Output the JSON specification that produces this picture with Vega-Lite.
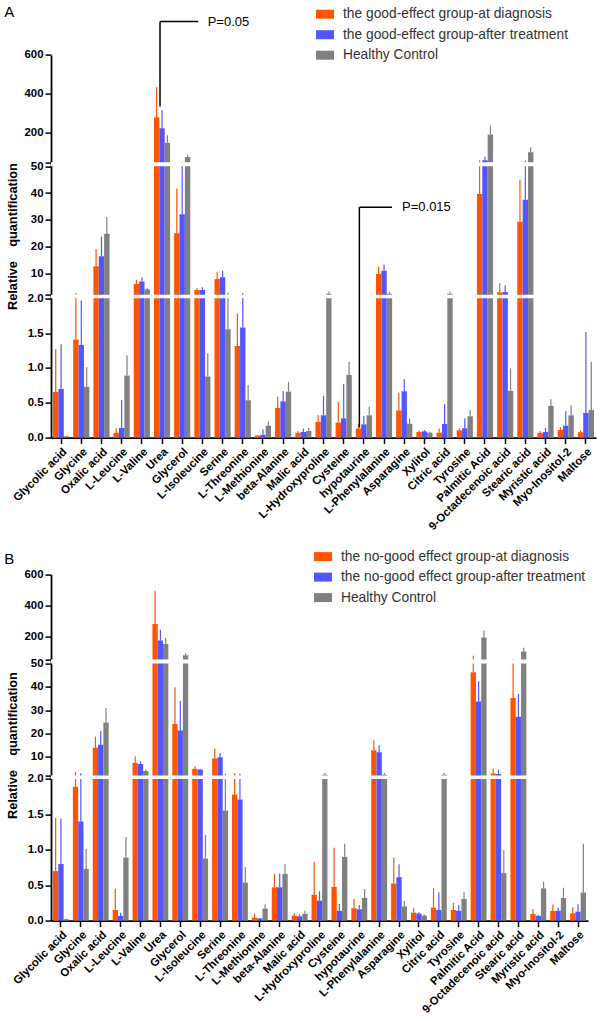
{
  "$schema": "https://vega.github.io/schema/vega-lite/v6.json",
  "padding": {"left": 4, "top": 4.6, "right": 0, "bottom": 0},
  "spacing": 13,
  "config": {
    "view": {"stroke": null},
    "font": "Liberation Sans",
    "axis": {"grid": false, "domainColor": "#000", "tickColor": "#000", "labelColor": "#000", "titleColor": "#000", "labelFont": "Liberation Sans", "labelFontWeight": "bold", "labelFontSize": 11.4, "domainWidth": 1.8, "tickWidth": 1.5, "tickSize": 6, "labelPadding": 2},
    "legend": {"title": null, "orient": "none", "direction": "vertical", "symbolType": "M-1,-0.5L1,-0.5L1,0.5L-1,0.5Z", "symbolSize": 324, "symbolStrokeWidth": 0, "symbolOpacity": 1, "labelFont": "Liberation Sans", "labelFontSize": 13.8, "labelColor": "#333", "labelLimit": 320, "rowPadding": 4.5, "labelOffset": 9}
  },
  "resolve": {"scale": {"color": "independent", "stroke": "independent", "xOffset": "independent", "x": "independent", "y": "independent"}},
  "datasets": {
    "A": [
      {"m": "Glycolic acid", "g": "the good-effect group-at diagnosis", "v": 0.655, "u": 1.27},
      {"m": "Glycolic acid", "g": "the good-effect group-after treatment", "v": 0.70, "u": 1.34},
      {"m": "Glycolic acid", "g": "Healthy Control", "v": 0.02, "u": 0.03},
      {"m": "Glycine", "g": "the good-effect group-at diagnosis", "v": 1.41, "u": 2.5},
      {"m": "Glycine", "g": "the good-effect group-after treatment", "v": 1.33, "u": 1.97},
      {"m": "Glycine", "g": "Healthy Control", "v": 0.73, "u": 1.01},
      {"m": "Oxalic acid", "g": "the good-effect group-at diagnosis", "v": 12.6, "u": 19.1},
      {"m": "Oxalic acid", "g": "the good-effect group-after treatment", "v": 16.4, "u": 23.7},
      {"m": "Oxalic acid", "g": "Healthy Control", "v": 24.8, "u": 31},
      {"m": "L-Leucine", "g": "the good-effect group-at diagnosis", "v": 0.07, "u": 0.13},
      {"m": "L-Leucine", "g": "the good-effect group-after treatment", "v": 0.14, "u": 0.54},
      {"m": "L-Leucine", "g": "Healthy Control", "v": 0.89, "u": 1.18},
      {"m": "L-Valine", "g": "the good-effect group-at diagnosis", "v": 6.0, "u": 7.6},
      {"m": "L-Valine", "g": "the good-effect group-after treatment", "v": 6.9, "u": 8.4},
      {"m": "L-Valine", "g": "Healthy Control", "v": 4.0, "u": 4.6},
      {"m": "Urea", "g": "the good-effect group-at diagnosis", "v": 280, "u": 434},
      {"m": "Urea", "g": "the good-effect group-after treatment", "v": 224, "u": 318},
      {"m": "Urea", "g": "Healthy Control", "v": 150, "u": 188},
      {"m": "Glycerol", "g": "the good-effect group-at diagnosis", "v": 25, "u": 41.7},
      {"m": "Glycerol", "g": "the good-effect group-after treatment", "v": 32.1, "u": 51.5},
      {"m": "Glycerol", "g": "Healthy Control", "v": 77, "u": 89},
      {"m": "L-Isoleucine", "g": "the good-effect group-at diagnosis", "v": 3.75, "u": 4.5},
      {"m": "L-Isoleucine", "g": "the good-effect group-after treatment", "v": 3.75, "u": 4.75},
      {"m": "L-Isoleucine", "g": "Healthy Control", "v": 0.876, "u": 1.21},
      {"m": "Serine", "g": "the good-effect group-at diagnosis", "v": 7.9, "u": 10.5},
      {"m": "Serine", "g": "the good-effect group-after treatment", "v": 8.5, "u": 11},
      {"m": "Serine", "g": "Healthy Control", "v": 1.555, "u": 2.8},
      {"m": "L-Threonine", "g": "the good-effect group-at diagnosis", "v": 1.315, "u": 1.78},
      {"m": "L-Threonine", "g": "the good-effect group-after treatment", "v": 1.58, "u": 2.6},
      {"m": "L-Threonine", "g": "Healthy Control", "v": 0.536, "u": 0.756},
      {"m": "L-Methionine", "g": "the good-effect group-at diagnosis", "v": 0.03, "u": 0.04},
      {"m": "L-Methionine", "g": "the good-effect group-after treatment", "v": 0.04, "u": 0.12},
      {"m": "L-Methionine", "g": "Healthy Control", "v": 0.17, "u": 0.23},
      {"m": "beta-Alanine", "g": "the good-effect group-at diagnosis", "v": 0.426, "u": 0.59},
      {"m": "beta-Alanine", "g": "the good-effect group-after treatment", "v": 0.52, "u": 0.67},
      {"m": "beta-Alanine", "g": "Healthy Control", "v": 0.66, "u": 0.80},
      {"m": "Malic acid", "g": "the good-effect group-at diagnosis", "v": 0.067, "u": 0.096},
      {"m": "Malic acid", "g": "the good-effect group-after treatment", "v": 0.08, "u": 0.13},
      {"m": "Malic acid", "g": "Healthy Control", "v": 0.096, "u": 0.14},
      {"m": "L-Hydroxyproline", "g": "the good-effect group-at diagnosis", "v": 0.225, "u": 0.32},
      {"m": "L-Hydroxyproline", "g": "the good-effect group-after treatment", "v": 0.32, "u": 0.6},
      {"m": "L-Hydroxyproline", "g": "Healthy Control", "v": 2.35, "u": 3.1},
      {"m": "Cysteine", "g": "the good-effect group-at diagnosis", "v": 0.215, "u": 0.507},
      {"m": "Cysteine", "g": "the good-effect group-after treatment", "v": 0.277, "u": 0.77},
      {"m": "Cysteine", "g": "Healthy Control", "v": 0.90, "u": 1.086},
      {"m": "hypotaurine", "g": "the good-effect group-at diagnosis", "v": 0.13, "u": 0.2},
      {"m": "hypotaurine", "g": "the good-effect group-after treatment", "v": 0.19, "u": 0.31},
      {"m": "hypotaurine", "g": "Healthy Control", "v": 0.32, "u": 0.445},
      {"m": "L-Phenylalanine", "g": "the good-effect group-at diagnosis", "v": 9.75, "u": 12.5},
      {"m": "L-Phenylalanine", "g": "the good-effect group-after treatment", "v": 11, "u": 13.25},
      {"m": "L-Phenylalanine", "g": "Healthy Control", "v": 2.35, "u": 3.1},
      {"m": "Asparagine", "g": "the good-effect group-at diagnosis", "v": 0.39, "u": 0.646},
      {"m": "Asparagine", "g": "the good-effect group-after treatment", "v": 0.665, "u": 0.84},
      {"m": "Asparagine", "g": "Healthy Control", "v": 0.2, "u": 0.277},
      {"m": "Xylitol", "g": "the good-effect group-at diagnosis", "v": 0.08, "u": 0.1},
      {"m": "Xylitol", "g": "the good-effect group-after treatment", "v": 0.09, "u": 0.11},
      {"m": "Xylitol", "g": "Healthy Control", "v": 0.07, "u": 0.085},
      {"m": "Citric acid", "g": "the good-effect group-at diagnosis", "v": 0.07, "u": 0.13},
      {"m": "Citric acid", "g": "the good-effect group-after treatment", "v": 0.196, "u": 0.483},
      {"m": "Citric acid", "g": "Healthy Control", "v": 2.35, "u": 3.1},
      {"m": "Tyrosine", "g": "the good-effect group-at diagnosis", "v": 0.105, "u": 0.134},
      {"m": "Tyrosine", "g": "the good-effect group-after treatment", "v": 0.134, "u": 0.277},
      {"m": "Tyrosine", "g": "Healthy Control", "v": 0.306, "u": 0.40},
      {"m": "Palmitic Acid", "g": "the good-effect group-at diagnosis", "v": 39.6, "u": 60},
      {"m": "Palmitic Acid", "g": "the good-effect group-after treatment", "v": 60, "u": 78},
      {"m": "Palmitic Acid", "g": "Healthy Control", "v": 192, "u": 238},
      {"m": "9-Octadecenoic acid", "g": "the good-effect group-at diagnosis", "v": 2.9, "u": 6.3},
      {"m": "9-Octadecenoic acid", "g": "the good-effect group-after treatment", "v": 3.0, "u": 5.4},
      {"m": "9-Octadecenoic acid", "g": "Healthy Control", "v": 0.67, "u": 0.995},
      {"m": "Stearic acid", "g": "the good-effect group-at diagnosis", "v": 29.3, "u": 45},
      {"m": "Stearic acid", "g": "the good-effect group-after treatment", "v": 37.5, "u": 58},
      {"m": "Stearic acid", "g": "Healthy Control", "v": 101, "u": 126},
      {"m": "Myristic acid", "g": "the good-effect group-at diagnosis", "v": 0.07, "u": 0.09},
      {"m": "Myristic acid", "g": "the good-effect group-after treatment", "v": 0.08, "u": 0.14},
      {"m": "Myristic acid", "g": "Healthy Control", "v": 0.455, "u": 0.55},
      {"m": "Myo-Inositol-2", "g": "the good-effect group-at diagnosis", "v": 0.11, "u": 0.153},
      {"m": "Myo-Inositol-2", "g": "the good-effect group-after treatment", "v": 0.172, "u": 0.383},
      {"m": "Myo-Inositol-2", "g": "Healthy Control", "v": 0.32, "u": 0.464},
      {"m": "Maltose", "g": "the good-effect group-at diagnosis", "v": 0.077, "u": 0.105},
      {"m": "Maltose", "g": "the good-effect group-after treatment", "v": 0.354, "u": 1.517},
      {"m": "Maltose", "g": "Healthy Control", "v": 0.397, "u": 1.086}
    ],
    "B": [
      {"m": "Glycolic acid", "g": "the no-good effect group-at diagnosis", "v": 0.70, "u": 1.45},
      {"m": "Glycolic acid", "g": "the no-good effect group-after treatment", "v": 0.80, "u": 1.44},
      {"m": "Glycolic acid", "g": "Healthy Control", "v": 0.02, "u": 0.03},
      {"m": "Glycine", "g": "the no-good effect group-at diagnosis", "v": 1.89, "u": 3.5},
      {"m": "Glycine", "g": "the no-good effect group-after treatment", "v": 1.40, "u": 3.0},
      {"m": "Glycine", "g": "Healthy Control", "v": 0.73, "u": 1.01},
      {"m": "Oxalic acid", "g": "the no-good effect group-at diagnosis", "v": 13.9, "u": 18.7},
      {"m": "Oxalic acid", "g": "the no-good effect group-after treatment", "v": 15.2, "u": 21.1},
      {"m": "Oxalic acid", "g": "Healthy Control", "v": 24.8, "u": 31},
      {"m": "L-Leucine", "g": "the no-good effect group-at diagnosis", "v": 0.15, "u": 0.45},
      {"m": "L-Leucine", "g": "the no-good effect group-after treatment", "v": 0.066, "u": 0.11},
      {"m": "L-Leucine", "g": "Healthy Control", "v": 0.89, "u": 1.18},
      {"m": "L-Valine", "g": "the no-good effect group-at diagnosis", "v": 7.4, "u": 10.3},
      {"m": "L-Valine", "g": "the no-good effect group-after treatment", "v": 7.0, "u": 8.1},
      {"m": "L-Valine", "g": "Healthy Control", "v": 4.0, "u": 4.6},
      {"m": "Urea", "g": "the no-good effect group-at diagnosis", "v": 280, "u": 496},
      {"m": "Urea", "g": "the no-good effect group-after treatment", "v": 172, "u": 243},
      {"m": "Urea", "g": "Healthy Control", "v": 150, "u": 188},
      {"m": "Glycerol", "g": "the no-good effect group-at diagnosis", "v": 24.1, "u": 39.9},
      {"m": "Glycerol", "g": "the no-good effect group-after treatment", "v": 21.3, "u": 34},
      {"m": "Glycerol", "g": "Healthy Control", "v": 77, "u": 89},
      {"m": "L-Isoleucine", "g": "the no-good effect group-at diagnosis", "v": 4.9, "u": 6.0},
      {"m": "L-Isoleucine", "g": "the no-good effect group-after treatment", "v": 4.6, "u": 4.9},
      {"m": "L-Isoleucine", "g": "Healthy Control", "v": 0.876, "u": 1.21},
      {"m": "Serine", "g": "the no-good effect group-at diagnosis", "v": 9.3, "u": 13.6},
      {"m": "Serine", "g": "the no-good effect group-after treatment", "v": 9.9, "u": 11.7},
      {"m": "Serine", "g": "Healthy Control", "v": 1.555, "u": 2.8},
      {"m": "L-Threonine", "g": "the no-good effect group-at diagnosis", "v": 1.78, "u": 3.0},
      {"m": "L-Threonine", "g": "the no-good effect group-after treatment", "v": 1.71, "u": 2.8},
      {"m": "L-Threonine", "g": "Healthy Control", "v": 0.536, "u": 0.756},
      {"m": "L-Methionine", "g": "the no-good effect group-at diagnosis", "v": 0.04, "u": 0.10},
      {"m": "L-Methionine", "g": "the no-good effect group-after treatment", "v": 0.03, "u": 0.04},
      {"m": "L-Methionine", "g": "Healthy Control", "v": 0.17, "u": 0.23},
      {"m": "beta-Alanine", "g": "the no-good effect group-at diagnosis", "v": 0.47, "u": 0.66},
      {"m": "beta-Alanine", "g": "the no-good effect group-after treatment", "v": 0.47, "u": 0.665},
      {"m": "beta-Alanine", "g": "Healthy Control", "v": 0.66, "u": 0.80},
      {"m": "Malic acid", "g": "the no-good effect group-at diagnosis", "v": 0.07, "u": 0.108},
      {"m": "Malic acid", "g": "the no-good effect group-after treatment", "v": 0.06, "u": 0.085},
      {"m": "Malic acid", "g": "Healthy Control", "v": 0.096, "u": 0.14},
      {"m": "L-Hydroxyproline", "g": "the no-good effect group-at diagnosis", "v": 0.363, "u": 0.83},
      {"m": "L-Hydroxyproline", "g": "the no-good effect group-after treatment", "v": 0.283, "u": 0.415},
      {"m": "L-Hydroxyproline", "g": "Healthy Control", "v": 2.35, "u": 3.1},
      {"m": "Cysteine", "g": "the no-good effect group-at diagnosis", "v": 0.476, "u": 1.03},
      {"m": "Cysteine", "g": "the no-good effect group-after treatment", "v": 0.137, "u": 0.236},
      {"m": "Cysteine", "g": "Healthy Control", "v": 0.90, "u": 1.086},
      {"m": "hypotaurine", "g": "the no-good effect group-at diagnosis", "v": 0.175, "u": 0.31},
      {"m": "hypotaurine", "g": "the no-good effect group-after treatment", "v": 0.16, "u": 0.22},
      {"m": "hypotaurine", "g": "Healthy Control", "v": 0.32, "u": 0.445},
      {"m": "L-Phenylalanine", "g": "the no-good effect group-at diagnosis", "v": 12.9, "u": 17.1},
      {"m": "L-Phenylalanine", "g": "the no-good effect group-after treatment", "v": 12, "u": 15},
      {"m": "L-Phenylalanine", "g": "Healthy Control", "v": 2.35, "u": 3.1},
      {"m": "Asparagine", "g": "the no-good effect group-at diagnosis", "v": 0.524, "u": 0.89},
      {"m": "Asparagine", "g": "the no-good effect group-after treatment", "v": 0.613, "u": 0.797},
      {"m": "Asparagine", "g": "Healthy Control", "v": 0.2, "u": 0.277},
      {"m": "Xylitol", "g": "the no-good effect group-at diagnosis", "v": 0.113, "u": 0.18},
      {"m": "Xylitol", "g": "the no-good effect group-after treatment", "v": 0.1, "u": 0.118},
      {"m": "Xylitol", "g": "Healthy Control", "v": 0.07, "u": 0.085},
      {"m": "Citric acid", "g": "the no-good effect group-at diagnosis", "v": 0.184, "u": 0.46},
      {"m": "Citric acid", "g": "the no-good effect group-after treatment", "v": 0.15, "u": 0.4},
      {"m": "Citric acid", "g": "Healthy Control", "v": 2.35, "u": 3.1},
      {"m": "Tyrosine", "g": "the no-good effect group-at diagnosis", "v": 0.15, "u": 0.25},
      {"m": "Tyrosine", "g": "the no-good effect group-after treatment", "v": 0.14, "u": 0.22},
      {"m": "Tyrosine", "g": "Healthy Control", "v": 0.306, "u": 0.40},
      {"m": "Palmitic Acid", "g": "the no-good effect group-at diagnosis", "v": 46.3, "u": 74},
      {"m": "Palmitic Acid", "g": "the no-good effect group-after treatment", "v": 33.8, "u": 42.4},
      {"m": "Palmitic Acid", "g": "Healthy Control", "v": 192, "u": 238},
      {"m": "9-Octadecenoic acid", "g": "the no-good effect group-at diagnosis", "v": 2.86, "u": 5.0},
      {"m": "9-Octadecenoic acid", "g": "the no-good effect group-after treatment", "v": 2.7, "u": 4.6},
      {"m": "9-Octadecenoic acid", "g": "Healthy Control", "v": 0.67, "u": 0.995},
      {"m": "Stearic acid", "g": "the no-good effect group-at diagnosis", "v": 35.3, "u": 53},
      {"m": "Stearic acid", "g": "the no-good effect group-after treatment", "v": 27.2, "u": 37.1},
      {"m": "Stearic acid", "g": "Healthy Control", "v": 101, "u": 126},
      {"m": "Myristic acid", "g": "the no-good effect group-at diagnosis", "v": 0.094, "u": 0.165},
      {"m": "Myristic acid", "g": "the no-good effect group-after treatment", "v": 0.066, "u": 0.08},
      {"m": "Myristic acid", "g": "Healthy Control", "v": 0.455, "u": 0.55},
      {"m": "Myo-Inositol-2", "g": "the no-good effect group-at diagnosis", "v": 0.137, "u": 0.226},
      {"m": "Myo-Inositol-2", "g": "the no-good effect group-after treatment", "v": 0.137, "u": 0.18},
      {"m": "Myo-Inositol-2", "g": "Healthy Control", "v": 0.32, "u": 0.464},
      {"m": "Maltose", "g": "the no-good effect group-at diagnosis", "v": 0.104, "u": 0.19},
      {"m": "Maltose", "g": "the no-good effect group-after treatment", "v": 0.127, "u": 0.23},
      {"m": "Maltose", "g": "Healthy Control", "v": 0.397, "u": 1.086}
    ]
  },
  "vconcat": [
    {
      "title": {"text": "A", "anchor": "start", "frame": "bounds", "fontSize": 15, "fontWeight": "normal", "font": "Liberation Sans", "color": "#000", "dx": -2.7, "dy": 14.5, "offset": 0},
      "width": 545,
      "height": 432,
      "layer": [
        {
          "data": {"name": "A"},
          "mark": {"type": "bar"},
          "encoding": {
            "x": {"field": "m", "type": "nominal", "scale": {"domain": ["Glycolic acid", "Glycine", "Oxalic acid", "L-Leucine", "L-Valine", "Urea", "Glycerol", "L-Isoleucine", "Serine", "L-Threonine", "L-Methionine", "beta-Alanine", "Malic acid", "L-Hydroxyproline", "Cysteine", "hypotaurine", "L-Phenylalanine", "Asparagine", "Xylitol", "Citric acid", "Tyrosine", "Palmitic Acid", "9-Octadecenoic acid", "Stearic acid", "Myristic acid", "Myo-Inositol-2", "Maltose"], "paddingInner": 0.2, "paddingOuter": 0.1}, "axis": {"title": null, "labelAngle": -45, "labelOverlap": false}},
            "xOffset": {"field": "g", "type": "nominal", "scale": {"domain": ["the good-effect group-at diagnosis", "the good-effect group-after treatment", "Healthy Control"]}},
            "y": {"field": "v", "type": "quantitative", "scale": {"domain": [0, 2, 2.001, 50, 50.001, 600], "range": [432, 292.7, 289.1, 160.7, 156.6, 49.3], "nice": false, "zero": false}, "axis": {"values": [0, 0.5, 1, 1.5, 2, 2.001, 10, 20, 30, 40, 50, 50.001, 200, 400, 600], "tickCount": 40, "labelExpr": "datum.value == 2.001 || datum.value == 50.001 ? '' : (datum.value <= 2 ? format(datum.value, '.1f') : format(datum.value, 'd'))", "labelOverlap": false, "title": "Relative\u00a0\u00a0\u00a0\u00a0quantification", "titleFontSize": 12.8, "titleFontWeight": "bold", "titleFont": "Liberation Sans", "titleY": 230.5, "titlePadding": 4}},
            "color": {"field": "g", "type": "nominal", "scale": {"domain": ["the good-effect group-at diagnosis", "the good-effect group-after treatment", "Healthy Control"], "range": ["#FF5500", "#5555FF", "#808080"]}, "legend": {"legendX": 265, "legendY": -0.4}}
          }
        },
        {
          "data": {"name": "A"},
          "mark": {"type": "rule", "strokeWidth": 1.2},
          "encoding": {
            "x": {"field": "m", "type": "nominal"},
            "xOffset": {"field": "g", "type": "nominal"},
            "y": {"field": "v", "type": "quantitative"},
            "y2": {"field": "u"},
            "stroke": {"field": "g", "type": "nominal", "scale": {"domain": ["the good-effect group-at diagnosis", "the good-effect group-after treatment", "Healthy Control"], "range": ["#FF5500", "#5555FF", "#808080"]}, "legend": null}
          }
        },
        {
          "data": {"values": [{}]},
          "mark": {"type": "rule", "color": "white", "strokeWidth": 3.6},
          "encoding": {"y": {"datum": 2.0005, "type": "quantitative"}}
        },
        {
          "data": {"values": [{}]},
          "mark": {"type": "rule", "color": "white", "strokeWidth": 4},
          "encoding": {"y": {"datum": 50.0005, "type": "quantitative"}}
        },
        {
          "data": {"values": [{"m": "Urea", "v": 335, "u": 771}]},
          "mark": {"type": "rule", "color": "#000", "strokeWidth": 1.5, "xOffset": -2},
          "encoding": {"x": {"field": "m", "type": "nominal"}, "y": {"field": "v", "type": "quantitative"}, "y2": {"field": "u"}}
        },
        {
          "data": {"values": [{"m": "Urea", "m2": "Glycerol", "v": 771}]},
          "mark": {"type": "rule", "color": "#000", "strokeWidth": 1.5, "xOffset": -2, "x2Offset": 16},
          "encoding": {"x": {"field": "m", "type": "nominal"}, "x2": {"field": "m2"}, "y": {"field": "v", "type": "quantitative"}}
        },
        {
          "data": {"values": [{"m": "hypotaurine", "v": 0.144, "u": 34.7}]},
          "mark": {"type": "rule", "color": "#000", "strokeWidth": 1.5, "xOffset": -4.5},
          "encoding": {"x": {"field": "m", "type": "nominal"}, "y": {"field": "v", "type": "quantitative"}, "y2": {"field": "u"}}
        },
        {
          "data": {"values": [{"m": "hypotaurine", "m2": "L-Phenylalanine", "v": 34.7}]},
          "mark": {"type": "rule", "color": "#000", "strokeWidth": 1.5, "xOffset": -4.5, "x2Offset": 8},
          "encoding": {"x": {"field": "m", "type": "nominal"}, "x2": {"field": "m2"}, "y": {"field": "v", "type": "quantitative"}}
        },
        {
          "data": {"values": [{"m": "L-Isoleucine", "v": 771, "t": "P=0.05"}]},
          "mark": {"type": "text", "align": "left", "baseline": "middle", "fontSize": 13, "font": "Liberation Sans", "color": "#000", "dx": 5.3},
          "encoding": {"x": {"field": "m", "type": "nominal"}, "y": {"field": "v", "type": "quantitative"}, "text": {"field": "t"}}
        },
        {
          "data": {"values": [{"m": "L-Phenylalanine", "v": 34.7, "t": "P=0.015"}]},
          "mark": {"type": "text", "align": "left", "baseline": "middle", "fontSize": 13, "font": "Liberation Sans", "color": "#000", "dx": 18},
          "encoding": {"x": {"field": "m", "type": "nominal"}, "y": {"field": "v", "type": "quantitative"}, "text": {"field": "t"}}
        }
      ]
    },
    {
      "title": {"text": "B", "anchor": "start", "frame": "bounds", "fontSize": 15, "fontWeight": "normal", "font": "Liberation Sans", "color": "#000", "dx": -2.7, "dy": 21, "offset": 0},
      "width": 537,
      "height": 375,
      "layer": [
        {
          "data": {"name": "B"},
          "mark": {"type": "bar"},
          "encoding": {
            "x": {"field": "m", "type": "nominal", "scale": {"domain": ["Glycolic acid", "Glycine", "Oxalic acid", "L-Leucine", "L-Valine", "Urea", "Glycerol", "L-Isoleucine", "Serine", "L-Threonine", "L-Methionine", "beta-Alanine", "Malic acid", "L-Hydroxyproline", "Cysteine", "hypotaurine", "L-Phenylalanine", "Asparagine", "Xylitol", "Citric acid", "Tyrosine", "Palmitic Acid", "9-Octadecenoic acid", "Stearic acid", "Myristic acid", "Myo-Inositol-2", "Maltose"], "paddingInner": 0.2, "paddingOuter": 0.1}, "axis": {"title": null, "labelAngle": -45, "labelOverlap": false}},
            "xOffset": {"field": "g", "type": "nominal", "scale": {"domain": ["the no-good effect group-at diagnosis", "the no-good effect group-after treatment", "Healthy Control"]}},
            "y": {"field": "v", "type": "quantitative", "scale": {"domain": [0, 2, 2.001, 50, 50.001, 600], "range": [375, 233.4, 230, 118, 113.8, 29], "nice": false, "zero": false}, "axis": {"values": [0, 0.5, 1, 1.5, 2, 2.001, 10, 20, 30, 40, 50, 50.001, 200, 400, 600], "tickCount": 40, "labelExpr": "datum.value == 2.001 || datum.value == 50.001 ? '' : (datum.value <= 2 ? format(datum.value, '.1f') : format(datum.value, 'd'))", "labelOverlap": false, "title": "Relative\u00a0\u00a0\u00a0\u00a0quantification", "titleFontSize": 12.8, "titleFontWeight": "bold", "titleFont": "Liberation Sans", "titleY": 199.5, "titlePadding": 4}},
            "color": {"field": "g", "type": "nominal", "scale": {"domain": ["the no-good effect group-at diagnosis", "the no-good effect group-after treatment", "Healthy Control"], "range": ["#FF5500", "#5555FF", "#808080"]}, "legend": {"legendX": 263, "legendY": 2}}
          }
        },
        {
          "data": {"name": "B"},
          "mark": {"type": "rule", "strokeWidth": 1.2},
          "encoding": {
            "x": {"field": "m", "type": "nominal"},
            "xOffset": {"field": "g", "type": "nominal"},
            "y": {"field": "v", "type": "quantitative"},
            "y2": {"field": "u"},
            "stroke": {"field": "g", "type": "nominal", "scale": {"domain": ["the no-good effect group-at diagnosis", "the no-good effect group-after treatment", "Healthy Control"], "range": ["#FF5500", "#5555FF", "#808080"]}, "legend": null}
          }
        },
        {
          "data": {"values": [{}]},
          "mark": {"type": "rule", "color": "white", "strokeWidth": 3.4},
          "encoding": {"y": {"datum": 2.0005, "type": "quantitative"}}
        },
        {
          "data": {"values": [{}]},
          "mark": {"type": "rule", "color": "white", "strokeWidth": 4.2},
          "encoding": {"y": {"datum": 50.0005, "type": "quantitative"}}
        }
      ]
    }
  ]
}
